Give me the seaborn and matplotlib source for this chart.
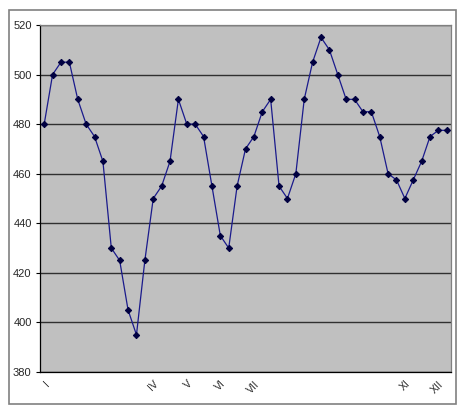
import numpy as np
import pandas as pd
import seaborn as sns
from matplotlib import pyplot as plt
from matplotlib.patches import Rectangle

# values, one per point
values = [480, 500, 505, 505, 490, 480, 475, 465, 430, 425,
          405, 395, 425, 450, 455, 465, 490, 480, 480, 475,
          455, 435, 430, 455, 470, 475, 485, 490, 455, 450,
          460, 490, 505, 515, 510, 500, 490, 490, 485, 485,
          475, 460, 457.5, 450, 457.5, 465, 475, 477.5, 477.5]
label_pos = [0, 13, 17, 21, 25, 43, 47]
label_text = ["I", "IV", "V", "VI", "VII", "XI", "XII"]
y_ticks = [380, 400, 420, 440, 460, 480, 500, 520]

df = pd.DataFrame({"idx": np.arange(len(values)), "value": values})

sns.set_style("white")
plt.rcParams["font.family"] = ["Liberation Sans", "DejaVu Sans"]

fig = plt.figure(figsize=(4.63, 4.09), dpi=100)
ax = fig.add_axes([40 / 463, 37 / 409, 411 / 463, 347 / 409])

# outer chart border
fig.patches.append(Rectangle((9 / 463, 5 / 409), 447 / 463, 394 / 409,
                             transform=fig.transFigure, fill=False,
                             edgecolor="#808080", linewidth=1.2))

ax.set_facecolor("#c0c0c0")
sns.lineplot(data=df, x="idx", y="value", ax=ax, color="#1a1a8c",
             marker="D", markersize=3.2, markeredgecolor="#000040",
             markerfacecolor="#000040", linewidth=0.9)

ax.set_xlim(-0.5, len(values) - 0.5)
ax.set_ylim(380, 520)
ax.set_yticks(y_ticks)
ax.yaxis.grid(True, color="#303030", linewidth=1)
ax.set_axisbelow(True)

ax.set_xticks(label_pos)
ax.set_xticklabels(label_text, rotation=45, ha="right", rotation_mode="anchor", fontsize=7.5)
ax.set_xticks(np.arange(-0.5, len(values), 1), minor=True)
ax.tick_params(axis="x", which="major", length=0, pad=5)
ax.tick_params(axis="x", which="minor", length=3, width=0.8, direction="out", color="black")
ax.tick_params(axis="y", length=3, width=0.8, direction="out", color="black", labelsize=8, pad=3)
ax.tick_params(bottom=True, left=True)

for s in ["left", "bottom"]:
    ax.spines[s].set_color("black")
    ax.spines[s].set_linewidth(0.9)
for s in ["top", "right"]:
    ax.spines[s].set_color("#808080")
    ax.spines[s].set_linewidth(0.9)

ax.set_xlabel("")
ax.set_ylabel("")

plt.savefig("out.png", dpi=100)
